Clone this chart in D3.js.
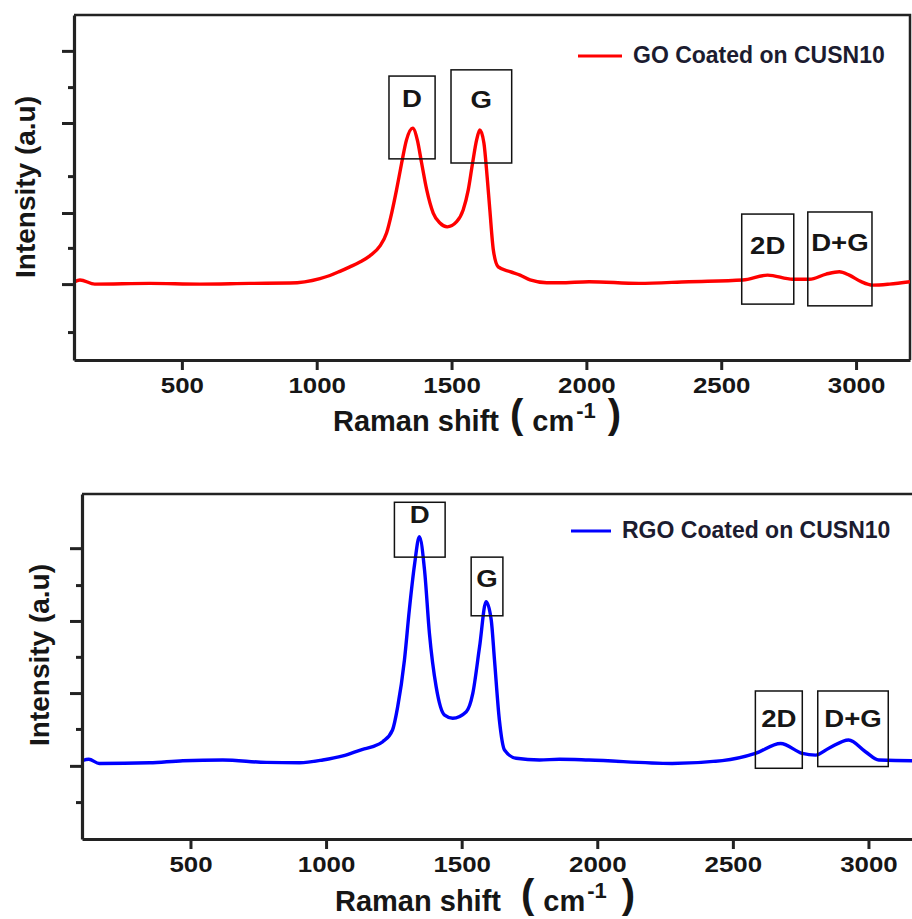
<!DOCTYPE html>
<html>
<head>
<meta charset="utf-8">
<script src="https://cdn.jsdelivr.net/npm/d3@7"></script>
<style>
  body { margin: 0; background: #fff; }
  svg { display: block; }
  text { font-family: "Liberation Sans", Arial, sans-serif; font-weight: bold; fill: #161616; }
</style>
</head>
<body>
<svg id="chart" width="912" height="919"></svg>
<script>
// Raman shift (cm-1) and intensity (a.u.)
const goShift = [100, 122, 177, 381, 567, 752, 901, 1012, 1049, 1086, 1123, 1160, 1197, 1234, 1259, 1278, 1296, 1315, 1333, 1356, 1373, 1389, 1408, 1432, 1457, 1484, 1519, 1543, 1562, 1578, 1593, 1605, 1620, 1632, 1642, 1655, 1673, 1717, 1754, 1791, 1853, 1902, 2010, 2195, 2380, 2580, 2672, 2765, 2827, 2889, 2938, 2975, 3019, 3062, 3124, 3200]
const goIntensity = [226, 232, 220, 222, 220, 222, 223, 236, 245, 257, 270, 284, 302, 330, 368, 426, 493, 571, 638, 672, 638, 571, 493, 426, 397, 386, 401, 435, 493, 571, 638, 667, 629, 531, 435, 319, 270, 256, 246, 232, 224, 224, 227, 222, 227, 232, 246, 234, 234, 249, 256, 246, 227, 217, 220, 227]

const rgoShift = [100, 125, 164, 349, 472, 619, 779, 902, 988, 1062, 1135, 1172, 1209, 1245, 1264, 1289, 1307, 1326, 1344, 1363, 1381, 1406, 1437, 1467, 1517, 1541, 1566, 1590, 1609, 1621, 1639, 1658, 1701, 1787, 1861, 1969, 2276, 2461, 2583, 2676, 2756, 2805, 2854, 2927, 2989, 3038, 3162, 3200]
const rgoIntensity = [227, 231, 219, 221, 227, 229, 222, 221, 229, 241, 260, 268, 282, 316, 383, 519, 664, 794, 876, 780, 597, 441, 359, 350, 369, 422, 557, 688, 635, 519, 345, 258, 234, 229, 231, 229, 219, 227, 248, 277, 248, 243, 263, 287, 253, 229, 227, 227]

const shiftDomain = [100, 3200]
const intensityDomain = [0, 1000]
const xTicks = [500, 1000, 1500, 2000, 2500, 3000]

const goMajorTicks = [220, 426, 687, 896]
const goMinorTicks = [81, 325, 533, 791]
const rgoMajorTicks = [212, 423, 632, 843]
const rgoMinorTicks = [107, 319, 528, 736]

// labelled peak boxes: shift range, intensity range, label baseline
const goPeaks = [
  { label: 'D', x0: 1268, x1: 1439, y0: 583, y1: 823, labelY: 733 },
  { label: 'G', x0: 1498, x1: 1723, y0: 571, y1: 841, labelY: 730 },
  { label: '2D', x0: 2576, x1: 2769, y0: 162, y1: 423, labelY: 307 },
  { label: 'D+G', x0: 2821, x1: 3059, y0: 157, y1: 429, labelY: 316 }
]
const rgoPeaks = [
  { label: 'D', x0: 1252, x1: 1439, y0: 817, y1: 976, labelY: 916 },
  { label: 'G', x0: 1535, x1: 1652, y0: 647, y1: 817, labelY: 730 },
  { label: '2D', x0: 2583, x1: 2756, y0: 205, y1: 429, labelY: 325 },
  { label: 'D+G', x0: 2813, x1: 3073, y0: 210, y1: 429, labelY: 325 }
]

const legendLabels = ['GO Coated on CUSN10', 'RGO Coated on CUSN10']
const xTitle = 'Raman shift'
const yTitle = 'Intensity (a.u)'

const svg = d3.select('#chart')

function drawPanel(o) {
  const x = d3.scaleLinear().domain(shiftDomain).range([o.left, o.right])
  const y = d3.scaleLinear().domain(intensityDomain).range([o.bottom, o.top])
  const g = svg.append('g')

  const clipId = 'clip-' + o.name
  g.append('clipPath').attr('id', clipId)
    .append('rect')
    .attr('x', o.left).attr('y', o.top)
    .attr('width', o.right - o.left).attr('height', o.bottom - o.top)

  // frame (top + right)
  g.append('path')
    .attr('d', `M${o.left},${o.top}H${o.right}V${o.bottom}`)
    .attr('fill', 'none').attr('stroke', '#222').attr('stroke-width', 2.5)

  const line = d3.line()
    .x(d => x(d[0]))
    .y(d => y(d[1]))
    .curve(d3.curveMonotoneX)

  g.append('path')
    .datum(d3.zip(o.shift, o.intensity))
    .attr('clip-path', `url(#${clipId})`)
    .attr('fill', 'none')
    .attr('stroke', o.color)
    .attr('stroke-width', 3.4)
    .attr('stroke-linejoin', 'round')
    .attr('d', line)

  const peaks = g.selectAll('g.peak').data(o.peaks).join('g').attr('class', 'peak')
  peaks.append('rect')
    .attr('x', d => x(d.x0))
    .attr('y', d => y(d.y1))
    .attr('width', d => x(d.x1) - x(d.x0))
    .attr('height', d => y(d.y0) - y(d.y1))
    .attr('fill', 'none')
    .attr('stroke', '#111')
    .attr('stroke-width', 1.5)
  peaks.append('text')
    .attr('transform', d => `translate(${x((d.x0 + d.x1) / 2)},${y(d.labelY)}) scale(1.2,1)`)
    .attr('text-anchor', 'middle')
    .style('font-size', '23px')
    .text(d => d.label)

  // x axis
  const gx = g.append('g')
    .attr('transform', `translate(0,${o.bottom})`)
    .call(d3.axisBottom(x).tickValues(xTicks).tickSize(10).tickSizeOuter(0).tickFormat(d3.format('d')))
  gx.select('.domain').attr('stroke', '#222').attr('stroke-width', 3.2)
  gx.selectAll('.tick line').attr('stroke', '#222').attr('stroke-width', 3)
  gx.selectAll('.tick text')
    .attr('y', 33).attr('dy', null)
    .attr('transform', 'scale(1.15,1)')
    .style('font-size', '22.5px')

  // y axis, major and minor ticks, no labels
  const gy = g.append('g')
    .attr('transform', `translate(${o.left},0)`)
    .call(d3.axisLeft(y).tickValues(o.major).tickSize(12).tickSizeOuter(0).tickFormat(''))
  gy.select('.domain').attr('stroke', '#222').attr('stroke-width', 3.2)
  gy.selectAll('.tick line').attr('stroke', '#222').attr('stroke-width', 3)
  const gyMinor = g.append('g')
    .attr('transform', `translate(${o.left},0)`)
    .call(d3.axisLeft(y).tickValues(o.minor).tickSize(6).tickFormat(''))
  gyMinor.select('.domain').remove()
  gyMinor.selectAll('.tick line').attr('stroke', '#222').attr('stroke-width', 3)

  // legend
  g.append('line')
    .attr('x1', o.legendX).attr('x2', o.legendX + o.legendLen)
    .attr('y1', o.legendY).attr('y2', o.legendY)
    .attr('stroke', o.color).attr('stroke-width', 3)
  g.append('text')
    .attr('x', o.legendX + o.legendLen + 11)
    .attr('y', o.legendY + 7)
    .style('font-size', '23px')
    .style('fill', '#1c1c30')
    .text(o.legend)

  // axis titles
  g.append('text')
    .attr('transform', `translate(${o.yTitleX},${o.yTitleY}) rotate(-90)`)
    .attr('text-anchor', 'middle')
    .style('font-size', '28px')
    .text(yTitle)

  const t = g.append('text')
    .attr('x', o.xTitleX).attr('y', o.xTitleY)
    .style('font-size', '29px')
  t.append('tspan').text(xTitle)
  t.append('tspan').attr('dx', o.parenGap).attr('dy', -3).style('font-size', '40px').text('(')
  t.append('tspan').attr('dx', 9).attr('dy', 3).text('cm')
  t.append('tspan').attr('dx', 2).attr('dy', -13).style('font-size', '22px').text('-1')
  t.append('tspan').attr('dx', o.closeGap).attr('dy', 10).style('font-size', '40px').text(')')
}

drawPanel({
  name: 'go', left: 74, right: 910, top: 15, bottom: 360,
  shift: goShift, intensity: goIntensity, color: '#ff0000',
  peaks: goPeaks, major: goMajorTicks, minor: goMinorTicks,
  legend: legendLabels[0], legendX: 578, legendY: 56, legendLen: 44,
  yTitleX: 35, yTitleY: 187, xTitleX: 333, xTitleY: 431, parenGap: 11, closeGap: 12
})

drawPanel({
  name: 'rgo', left: 82, right: 922.7, top: 494, bottom: 839,
  shift: rgoShift, intensity: rgoIntensity, color: '#0000ff',
  peaks: rgoPeaks, major: rgoMajorTicks, minor: rgoMinorTicks,
  legend: legendLabels[1], legendX: 571, legendY: 531, legendLen: 40,
  yTitleX: 49, yTitleY: 655, xTitleX: 335, xTitleY: 911, parenGap: 20, closeGap: 15
})
</script>
</body>
</html>
